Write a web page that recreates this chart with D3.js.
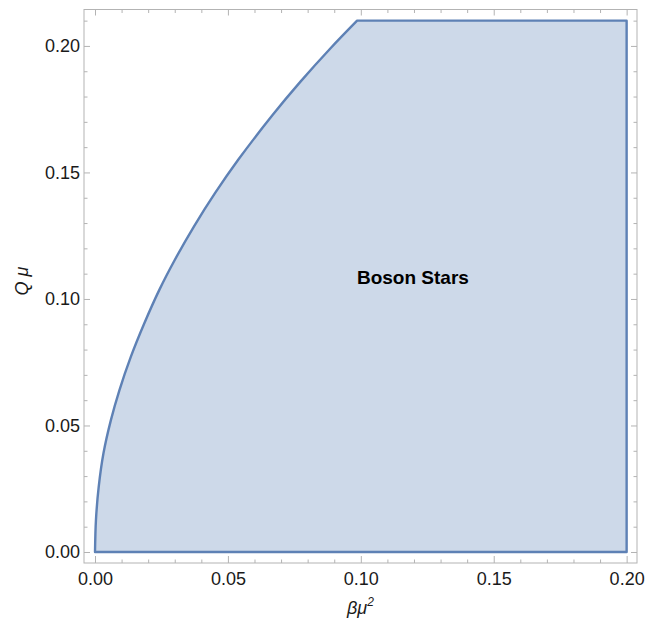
<html>
<style>
body { margin: 0; background: #fff; }
text { font-family: "Liberation Sans", Arial, Helvetica, sans-serif; }
.frame-ticks line { stroke: #b3b3b3; stroke-width: 1; }
.frame-ticks text { font-size: 18px; fill: #1a1a1a; }
</style>
<body>
<script src="https://d3js.org/d3.v7.min.js"></script>
<script>

// boundary of the region (beta mu^2, Q mu)
var betaVals = [0, 0.00036, 0.0014, 0.0032, 0.0060, 0.0092, 0.0135, 0.0186, 0.0242, 0.0300, 0.0372, 0.0452, 0.0538, 0.0668, 0.0773, 0.0887, 0.0986];
var qVals    = [0, 0.0127, 0.0258, 0.0391, 0.0522, 0.0640, 0.0772, 0.0905, 0.1036, 0.1154, 0.1286, 0.1419, 0.1549, 0.1727, 0.1859, 0.1992, 0.21];
var betaMax = 0.2,
    qMax = 0.21;

var majorTicks = [0, 0.05, 0.10, 0.15, 0.20];
var minorX = [0.01, 0.02, 0.03, 0.04, 0.06, 0.07, 0.08, 0.09, 0.11, 0.12, 0.13, 0.14, 0.16, 0.17, 0.18, 0.19];
var minorY = [0.01, 0.02, 0.03, 0.04, 0.06, 0.07, 0.08, 0.09, 0.11, 0.12, 0.13, 0.14, 0.16, 0.17, 0.18, 0.19, 0.21];

var label = { text: "Boson Stars", beta: 0.1196, q: 0.1087 };

var width = 647,
    height = 625,
    fLeft = 84, fRight = 637, fTop = 9.5, fBottom = 563;

var x = d3.scaleLinear()
    .domain([-0.00414, 0.2039])
    .range([fLeft, fRight]);

var y = d3.scaleLinear()
    .domain([-0.00435, 0.2144])
    .range([fBottom, fTop]);

var svg = d3.select("body").append("svg")
    .attr("width", width)
    .attr("height", height);

// region: curve up to the top, across, down the right side and back along zero
var pts = betaVals.map(function(b, i) { return [b, qVals[i]]; });

var curve = d3.line()
    .x(function(d) { return x(d[0]); })
    .y(function(d) { return y(d[1]); })
    .curve(d3.curveCatmullRom.alpha(0.5));

var straight = d3.line()
    .x(function(d) { return x(d[0]); })
    .y(function(d) { return y(d[1]); });

var corner = pts[pts.length - 1];
var region = curve(pts) +
    straight([corner, [betaMax, qMax], [betaMax, 0], [0, 0]]).replace(/^M[^L]*/, "") + "Z";

svg.append("path")
    .attr("d", region)
    .style("fill", "#cdd9e9")
    .style("stroke", "#5e81b5")
    .style("stroke-width", 2.4)
    .style("stroke-linejoin", "round");

// frame with inward ticks on all sides
function frameAxis(axis, tx, ty, size, vals, labels) {
  var g = svg.append("g")
      .attr("class", "frame-ticks")
      .attr("transform", "translate(" + tx + "," + ty + ")")
      .call(axis.tickValues(vals).tickSizeInner(-size).tickSizeOuter(0)
        .tickFormat(labels ? d3.format(".2f") : ""));
  g.select(".domain").remove();
  return g;
}

frameAxis(d3.axisBottom(x).tickPadding(9), 0, fBottom, 7, majorTicks, true);
frameAxis(d3.axisBottom(x), 0, fBottom, 3.5, minorX, false);
frameAxis(d3.axisTop(x), 0, fTop, 6, majorTicks, false);
frameAxis(d3.axisTop(x), 0, fTop, 3.5, minorX, false);
frameAxis(d3.axisLeft(y).tickPadding(4), fLeft, 0, 6, majorTicks, true);
frameAxis(d3.axisLeft(y), fLeft, 0, 3.5, minorY, false);
frameAxis(d3.axisRight(y), fRight, 0, 6, majorTicks, false);
frameAxis(d3.axisRight(y), fRight, 0, 3.5, minorY, false);

svg.append("rect")
    .attr("x", fLeft)
    .attr("y", fTop)
    .attr("width", fRight - fLeft)
    .attr("height", fBottom - fTop)
    .style("fill", "none")
    .style("stroke", "#b3b3b3")
    .style("stroke-width", 1);

// axis titles
var xt = svg.append("text")
    .attr("x", (fLeft + fRight) / 2)
    .attr("y", 614)
    .attr("text-anchor", "middle")
    .style("font-size", "18px")
    .style("font-style", "italic")
    .style("fill", "#1a1a1a");
xt.append("tspan").text("\u03b2\u03bc");
xt.append("tspan").attr("dy", -8).style("font-size", "12px").text("2");

svg.append("text")
    .attr("transform", "translate(28,281) rotate(-90)")
    .attr("text-anchor", "middle")
    .style("font-size", "18px")
    .style("font-style", "italic")
    .style("fill", "#1a1a1a")
    .text("Q \u03bc");

svg.append("text")
    .attr("x", x(label.beta))
    .attr("y", y(label.q))
    .attr("dy", "0.36em")
    .attr("text-anchor", "middle")
    .style("font-size", "19px")
    .style("font-weight", "bold")
    .style("fill", "#000")
    .text(label.text);

</script>
</body>
</html>
